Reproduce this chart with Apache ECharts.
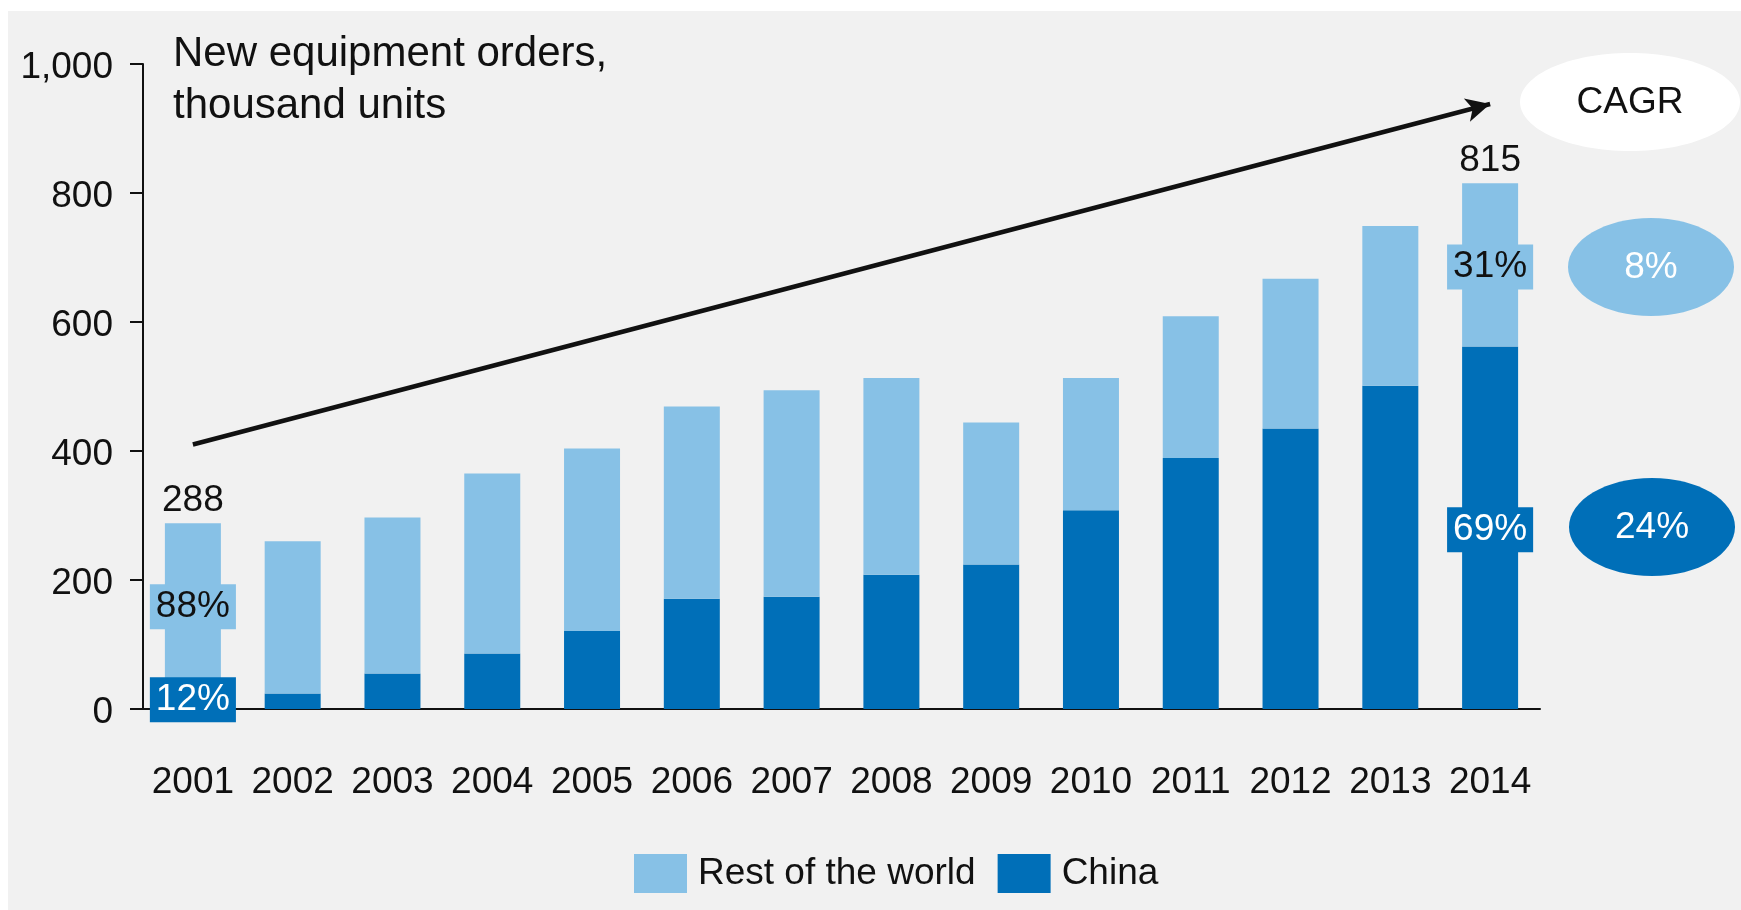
<!DOCTYPE html>
<html>
<head>
<meta charset="utf-8">
<script src="https://cdn.jsdelivr.net/npm/echarts@6/dist/echarts.min.js"></script>
<style>
  html, body { margin: 0; padding: 0; background: #ffffff; }
  #bg { position: absolute; left: 8px; top: 11px; width: 1733px; height: 899px; background: #f1f1f1; }
  #chart { position: absolute; left: 0; top: 0; width: 1741px; height: 910px; }
</style>
</head>
<body>
<div id="bg"></div>
<div id="chart"></div>
<script>
// ---- data ----
const years = ['2001','2002','2003','2004','2005','2006','2007','2008','2009','2010','2011','2012','2013','2014'];
const china = [35, 24, 55, 86, 121, 171, 174, 208, 224, 308, 389, 435, 501, 562];
const rest  = [253, 236, 242, 279, 283, 298, 320, 305, 220, 205, 220, 232, 248, 253];
const labeledYears = ['2001', '2014'];
const seriesNames = ['Rest of the world', 'China'];
const cagrTitle = 'CAGR';
const cagrValues = ['8%', '24%'];          // Rest of the world, China
const trendArrow = [410, 938];             // arrow start / end value (2001 -> 2014)
const titleLines = ['New equipment orders,', 'thousand units'];

// ---- styles ----
const FONT = "'Liberation Sans', Arial, Helvetica, sans-serif";
const LIGHT = '#87c1e6';
const DARK = '#006fb8';
const INK = '#111111';

const totals = years.map((y, i) => china[i] + rest[i]);
const isLabeled = i => labeledYears.indexOf(years[i]) >= 0;
const pct = (v, t) => Math.round(v / t * 100) + '%';

const boxLabel = (text, color, bg) => ({
  show: true, position: 'inside', formatter: text, offset: [0, 2],
  color: color, backgroundColor: bg, fontFamily: FONT, fontSize: 37,
  lineHeight: 37, padding: [4, 6, 4, 6]
});

const restData = rest.map((v, i) => isLabeled(i)
  ? { value: v, label: boxLabel(pct(v, totals[i]), INK, LIGHT) } : v);
const chinaData = china.map((v, i) => isLabeled(i)
  ? { value: v, label: boxLabel(pct(v, totals[i]), '#ffffff', DARK) } : v);
const totalData = [];
years.forEach((y, i) => { if (isLabeled(i)) totalData.push([y, totals[i]]); });

const chart = echarts.init(document.getElementById('chart'), null, { renderer: 'canvas' });

chart.setOption({
  animation: false,
  backgroundColor: 'transparent',
  textStyle: { fontFamily: FONT },
  title: {
    text: titleLines.join('\n'),
    left: 173, top: 28, padding: 0,
    textStyle: { fontFamily: FONT, fontSize: 42, fontWeight: 'normal', color: INK, lineHeight: 52 }
  },
  legend: {
    data: seriesNames,
    left: 634, top: 854, padding: 0,
    icon: 'rect', itemWidth: 53, itemHeight: 39, itemGap: 22,
    textStyle: { fontFamily: FONT, fontSize: 37, color: INK, padding: [5, 0, 0, 6] }
  },
  grid: { left: 143, right: 201, top: 64, bottom: 201, containLabel: false },
  xAxis: {
    type: 'category',
    data: years,
    axisLine: { show: true, lineStyle: { color: INK, width: 2 } },
    axisTick: { show: false },
    axisLabel: { color: INK, fontFamily: FONT, fontSize: 37, margin: 55, interval: 0 },
    splitLine: { show: false }
  },
  yAxis: {
    type: 'value',
    min: 0, max: 1000, interval: 200,
    axisLine: { show: true, lineStyle: { color: INK, width: 2 } },
    axisTick: { show: true, length: 13, lineStyle: { color: INK, width: 2 } },
    axisLabel: {
      color: INK, fontFamily: FONT, fontSize: 37, margin: 30,
      verticalAlign: 'top', lineHeight: 8,
      formatter: v => v.toLocaleString('en-US')
    },
    splitLine: { show: false }
  },
  series: [
    {
      name: seriesNames[1], type: 'bar', stack: 'total', barWidth: 56,
      itemStyle: { color: DARK }, data: chinaData, z: 3
    },
    {
      name: seriesNames[0], type: 'bar', stack: 'total', barWidth: 56,
      itemStyle: { color: LIGHT }, data: restData, z: 3
    },
    {
      name: 'totals', type: 'scatter', symbolSize: 0, data: totalData, z: 4,
      itemStyle: { opacity: 1 },
      label: { show: true, position: 'top', distance: 4, color: INK, opacity: 1, fontFamily: FONT, fontSize: 37,
               formatter: p => String(p.value[1]) },
      markLine: {
        silent: true, animation: false,
        symbol: ['none', 'arrow'], symbolSize: [18, 24],
        label: { show: false },
        lineStyle: { color: INK, width: 4.5, type: 'solid', opacity: 1 },
        data: [[ { coord: [years[0], trendArrow[0]] }, { coord: [years[years.length - 1], trendArrow[1]] } ]]
      }
    }
  ],
  graphic: [
    { type: 'ellipse', shape: { cx: 1630, cy: 102, rx: 110, ry: 49 }, style: { fill: '#ffffff' }, silent: true },
    { type: 'text', x: 1630, y: 103, style: { text: cagrTitle, fill: INK, font: '37px ' + FONT, textAlign: 'center', textVerticalAlign: 'middle' }, silent: true },
    { type: 'ellipse', shape: { cx: 1651, cy: 267, rx: 83, ry: 49 }, style: { fill: LIGHT }, silent: true },
    { type: 'text', x: 1651, y: 268, style: { text: cagrValues[0], fill: '#ffffff', font: '37px ' + FONT, textAlign: 'center', textVerticalAlign: 'middle' }, silent: true },
    { type: 'ellipse', shape: { cx: 1652, cy: 527, rx: 83, ry: 49 }, style: { fill: DARK }, silent: true },
    { type: 'text', x: 1652, y: 528, style: { text: cagrValues[1], fill: '#ffffff', font: '37px ' + FONT, textAlign: 'center', textVerticalAlign: 'middle' }, silent: true }
  ]
});
</script>
</body>
</html>
